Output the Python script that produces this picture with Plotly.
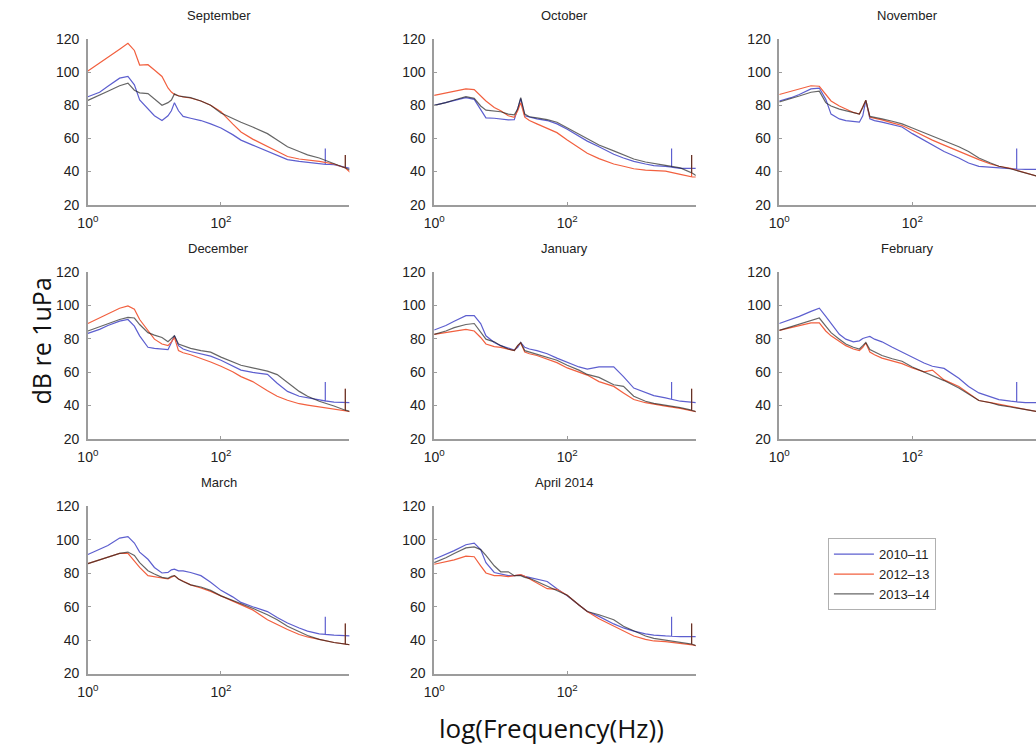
import numpy as np
import plotly.graph_objects as go

# Frequency grid (Hz) shared by every spectrum
freq_hz = [1, 1.5, 2, 3, 4, 5, 6, 8, 10, 13, 16, 18, 20, 23, 27, 35, 50, 70,
           100, 150, 200, 300, 500, 700, 1000, 1500, 2000, 3000, 5000, 7400, 8900]

seasons = ["2010\u201311", "2012\u201313", "2013\u201314"]
panel_titles = ["September", "October", "November", "December", "January",
                "February", "March", "April 2014"]

# Narrow tonal lines (Hz, peak dB)
tone_2010_hz, tone_2010_db = 3700, 54
tone_2012_hz, tone_2012_db = 7400, 50
tone_2013_hz, tone_2013_db = 7400, 50

# Median spectral levels, dB re 1 uPa
sep_2010 = [85.2, 87.9, 91.5, 96.4, 97.4, 92.4, 83.2, 77.7, 73.7, 70.8, 73.7, 76.7, 81.6, 76.7, 73.3, 72.2,
            70.8, 68.8, 66.3, 62.3, 59.0, 56.0, 52.1, 49.7, 47.2, 46.2, 45.6, 44.6, 44.2, 42.8, 41.8]
sep_2012 = [100.7, 105.4, 109.0, 113.9, 117.4, 113.1, 104.3, 104.5, 101.3, 97.4, 90.5, 88.0, 86.5, 85.6, 85.0, 84.4,
            82.6, 80.0, 76.1, 68.8, 63.9, 59.6, 55.0, 52.1, 49.1, 47.6, 47.0, 46.2, 44.6, 42.2, 39.3]
sep_2013 = [83.0, 86.0, 88.5, 91.8, 93.4, 89.1, 87.5, 87.1, 84.0, 80.0, 81.6, 83.2, 86.9, 85.6, 85.2, 84.6,
            82.6, 80.0, 75.3, 71.8, 69.8, 66.9, 62.9, 59.0, 55.0, 52.1, 50.1, 48.2, 44.6, 42.2, 40.9]

oct_2010 = [80.0, 81.6, 83.0, 84.6, 83.6, 77.7, 72.4, 72.2, 71.8, 71.2, 71.4, 77.7, 84.0, 73.7, 72.8, 71.8,
            70.8, 68.8, 65.5, 61.3, 58.4, 55.0, 50.5, 48.2, 46.2, 44.6, 43.6, 43.2, 41.9, 41.9, 41.9]
oct_2012 = [86.0, 87.5, 88.5, 89.9, 89.5, 85.6, 82.6, 78.7, 76.7, 73.7, 72.8, 76.7, 81.6, 72.8, 70.8, 68.8,
            65.9, 63.5, 59.0, 54.1, 51.1, 47.8, 44.6, 43.2, 41.7, 40.9, 40.7, 40.3, 38.3, 36.9, 36.7]
oct_2013 = [80.0, 81.6, 83.2, 85.2, 84.2, 79.6, 77.1, 76.7, 76.1, 74.7, 74.3, 77.7, 84.6, 74.7, 73.1, 72.4,
            71.4, 69.8, 66.3, 62.3, 59.6, 56.0, 52.5, 50.1, 47.6, 45.8, 44.8, 43.8, 42.2, 39.3, 37.3]

nov_2010 = [82.6, 84.6, 86.5, 89.9, 90.4, 83.6, 74.7, 71.8, 70.8, 70.4, 69.8, 73.7, 83.0, 71.8, 70.8, 69.8,
            68.4, 66.9, 62.9, 59.0, 56.4, 52.1, 48.2, 45.2, 43.2, 42.6, 42.2, 41.7, 41.3, 41.3, 41.3]
nov_2012 = [86.5, 88.5, 89.9, 91.8, 91.5, 86.5, 82.6, 79.6, 77.7, 75.7, 74.7, 78.7, 83.0, 72.8, 72.2, 71.2,
            69.4, 67.8, 64.9, 61.3, 59.0, 56.0, 52.1, 49.7, 47.2, 44.6, 43.2, 41.9, 39.3, 37.3, 36.7]
nov_2013 = [82.0, 84.0, 85.6, 87.9, 88.5, 81.6, 79.6, 77.7, 76.7, 75.7, 74.7, 78.7, 83.0, 73.3, 72.8, 71.8,
            70.4, 68.8, 66.3, 63.5, 61.5, 59.0, 55.0, 52.1, 48.2, 45.2, 43.2, 41.7, 39.3, 37.3, 36.7]

dec_2010 = [83.3, 85.7, 88.0, 90.6, 91.6, 87.6, 81.8, 74.9, 74.3, 73.9, 73.5, 77.8, 81.8, 75.9, 73.9, 72.4,
            71.0, 69.6, 67.1, 63.7, 61.2, 59.8, 58.6, 53.3, 48.4, 45.5, 44.5, 43.1, 42.0, 41.6, 41.6]
dec_2012 = [89.2, 92.5, 95.1, 98.4, 99.8, 97.8, 91.6, 84.7, 79.8, 76.9, 75.9, 78.2, 80.8, 72.9, 71.6, 70.4,
            68.4, 66.1, 63.5, 60.2, 57.3, 54.3, 48.8, 45.5, 43.1, 41.0, 40.2, 39.0, 37.6, 36.7, 36.1]
dec_2013 = [84.7, 87.3, 89.2, 91.6, 92.9, 92.5, 88.6, 83.7, 82.2, 80.8, 78.2, 79.8, 81.8, 76.9, 75.9, 74.3,
            72.9, 72.0, 69.0, 66.1, 64.1, 62.5, 60.6, 58.5, 54.0, 48.4, 45.5, 42.5, 39.6, 37.1, 36.3]

jan_2010 = [85.3, 88.0, 90.6, 93.9, 93.9, 89.2, 81.8, 77.8, 75.9, 74.3, 73.3, 74.9, 77.8, 74.9, 73.9, 72.9,
            71.0, 68.4, 66.1, 63.1, 61.8, 63.1, 63.1, 57.3, 50.4, 47.5, 45.9, 44.5, 42.5, 41.6, 41.6]
jan_2012 = [82.7, 83.7, 84.7, 85.7, 84.7, 80.8, 76.9, 75.3, 74.9, 73.9, 72.9, 75.9, 77.5, 72.0, 71.0, 70.0,
            68.0, 65.7, 62.5, 59.8, 58.2, 54.3, 51.4, 47.5, 43.5, 41.6, 40.6, 39.6, 38.2, 36.7, 36.1]
jan_2013 = [82.7, 84.7, 86.7, 88.6, 89.2, 83.7, 79.8, 78.2, 75.9, 73.9, 72.9, 75.9, 77.8, 72.9, 72.0, 71.0,
            69.0, 67.1, 64.1, 61.2, 58.6, 56.8, 52.4, 51.4, 45.5, 42.5, 41.2, 40.2, 38.6, 37.1, 36.1]

feb_2010 = [89.2, 91.6, 93.5, 96.5, 98.4, 93.5, 89.2, 82.7, 79.8, 78.2, 78.8, 80.2, 80.8, 81.4, 79.8, 78.2,
            74.9, 72.0, 69.0, 65.5, 63.5, 62.2, 56.3, 51.4, 47.5, 44.9, 43.5, 42.5, 41.6, 41.6, 41.6]
feb_2012 = [85.1, 86.7, 88.0, 89.6, 89.6, 84.7, 81.8, 78.2, 75.9, 73.9, 72.9, 74.9, 77.5, 72.0, 70.4, 68.4,
            66.5, 65.1, 62.5, 60.2, 61.2, 55.3, 51.4, 47.5, 42.9, 41.6, 40.6, 39.2, 37.6, 36.3, 35.7]
feb_2013 = [85.1, 87.3, 88.6, 91.2, 92.5, 87.6, 83.7, 79.8, 76.9, 74.9, 73.9, 75.9, 77.8, 73.5, 72.0, 70.0,
            68.0, 66.5, 63.1, 60.2, 57.8, 54.9, 50.4, 46.5, 42.9, 41.6, 40.2, 39.0, 37.3, 36.3, 35.7]

mar_2010 = [91.3, 94.2, 96.6, 101.1, 102.0, 98.1, 92.7, 88.4, 83.5, 80.2, 80.5, 82.1, 82.5, 81.5, 81.5, 80.5,
            78.6, 74.7, 69.8, 65.9, 62.6, 60.0, 57.1, 53.6, 50.3, 47.3, 45.4, 43.8, 43.0, 42.5, 42.5]
mar_2012 = [85.8, 88.0, 89.7, 91.9, 91.9, 87.4, 83.5, 78.6, 78.0, 77.0, 76.6, 77.6, 78.6, 76.6, 75.1, 73.1,
            71.2, 69.2, 66.5, 63.4, 61.0, 58.1, 52.2, 49.3, 46.4, 43.4, 41.9, 40.5, 38.6, 37.6, 37.2]
mar_2013 = [85.8, 88.0, 89.7, 91.9, 92.7, 90.7, 86.4, 81.5, 79.6, 77.6, 77.0, 78.2, 78.6, 76.6, 75.1, 73.1,
            71.8, 69.8, 66.5, 63.9, 62.0, 59.1, 55.2, 52.2, 48.3, 44.8, 42.8, 40.5, 38.6, 37.6, 37.2]

apr_2010 = [88.4, 91.3, 93.6, 97.1, 98.1, 94.2, 86.4, 80.5, 79.6, 78.6, 78.6, 79.0, 79.0, 78.2, 77.6, 76.6,
            75.1, 70.8, 66.5, 61.0, 57.1, 54.2, 49.7, 47.3, 45.4, 43.8, 43.0, 42.5, 42.1, 42.1, 42.1]
apr_2012 = [85.4, 86.8, 88.0, 90.3, 89.9, 84.5, 80.2, 78.6, 78.6, 78.0, 78.6, 79.2, 79.2, 78.2, 76.6, 74.3,
            70.8, 70.4, 66.9, 61.0, 57.1, 52.8, 48.3, 45.4, 42.5, 40.5, 39.5, 39.1, 38.2, 37.2, 36.6]
apr_2013 = [86.4, 89.3, 91.9, 95.2, 95.8, 94.2, 90.7, 84.5, 80.9, 80.9, 78.6, 78.6, 78.6, 77.6, 77.0, 75.1,
            72.3, 69.8, 66.9, 61.0, 57.1, 55.2, 52.2, 48.3, 45.4, 42.5, 41.1, 39.9, 38.6, 37.6, 36.6]

panel_series = [
    (sep_2010, sep_2012, sep_2013),
    (oct_2010, oct_2012, oct_2013),
    (nov_2010, nov_2012, nov_2013),
    (dec_2010, dec_2012, dec_2013),
    (jan_2010, jan_2012, jan_2013),
    (feb_2010, feb_2012, feb_2013),
    (mar_2010, mar_2012, mar_2013),
    (apr_2010, apr_2012, apr_2013),
]
tones = [(tone_2010_hz, tone_2010_db), (tone_2012_hz, tone_2012_db), (tone_2013_hz, tone_2013_db)]
line_colors = ["#5d5fcf", "#f2603f", "rgba(30,30,30,0.68)"]


def add_tone(f, v, tone_hz, tone_db):
    """Insert a narrow vertical tonal line into a spectrum."""
    f = list(f)
    v = list(v)
    base = float(np.interp(np.log10(tone_hz), np.log10(f), v))
    i = int(np.searchsorted(f, tone_hz))
    if i < len(f) and f[i] == tone_hz:
        f[i + 1:i + 1] = [tone_hz, tone_hz]
        v[i + 1:i + 1] = [tone_db, base]
    else:
        f[i:i] = [tone_hz, tone_hz, tone_hz]
        v[i:i] = [base, tone_db, base]
    return f, v


W, H = 1036, 753
col_px = [(77.7, 342.0), (427.7, 692.0), (776.5, 1036.0)]
row_px = [(31.7, 201.0), (270.0, 440.0), (509.3, 680.0)]
decades_per_px = 3.93 / (342.0 - 77.7)

fig = go.Figure()
axis_color = "#9c9c9c"
tick_font = dict(family="Liberation Sans, Arial, sans-serif", size=14, color="#222")

for k, title in enumerate(panel_titles):
    r, c = divmod(k, 3)
    n = k + 1
    xa = "x" if n == 1 else f"x{n}"
    ya = "y" if n == 1 else f"y{n}"
    x0, x1 = col_px[c]
    y0, y1 = row_px[r]
    xmax = (x1 - x0) * decades_per_px

    for s, (vals, name) in enumerate(zip(panel_series[k], seasons)):
        f, v = add_tone(freq_hz, vals, *tones[s])
        fig.add_trace(go.Scatter(
            x=f, y=v, mode="lines", name=name,
            line=dict(color=line_colors[s], width=1.2),
            xaxis=xa, yaxis=ya, showlegend=(k == 0), legendgroup=name,
        ))

    common = dict(showline=True, linecolor=axis_color, linewidth=1.5,
                  ticks="inside", ticklen=3, tickcolor=axis_color,
                  showgrid=False, zeroline=False, tickfont=tick_font)
    fig.update_layout(**{
        ("xaxis" if n == 1 else f"xaxis{n}"): dict(
            type="log", range=[0, xmax], domain=[x0 / W, x1 / W],
            anchor=ya, tickvals=[1, 100], ticklabelstandoff=5,
            ticktext=["10<sup>0</sup>", "10<sup>2</sup>"], **common),
        ("yaxis" if n == 1 else f"yaxis{n}"): dict(
            range=[20, 120], domain=[1 - y1 / H, 1 - y0 / H], anchor=xa,
            tickvals=[20, 40, 60, 80, 100, 120], ticklabelstandoff=4, **common),
    })
    fig.add_annotation(
        text=title, x=(x0 + x1) / 2 / W, y=1 - y0 / H, xref="paper", yref="paper",
        xanchor="center", yanchor="bottom", yshift=14, showarrow=False,
        font=dict(family="Liberation Sans, Arial, sans-serif", size=13, color="#222"),
    )

fig.add_annotation(
    text="dB re 1uPa", x=30 / W, y=1 - 340 / H, xref="paper", yref="paper",
    xanchor="center", yanchor="middle", textangle=-90, showarrow=False,
    font=dict(family="Open Sans, sans-serif", size=25, color="#111"),
)
fig.add_annotation(
    text="log(Frequency(Hz))", x=546 / W, y=1 - 736 / H, xref="paper", yref="paper",
    xanchor="center", yanchor="middle", showarrow=False,
    font=dict(family="Open Sans, sans-serif", size=26, color="#111"),
)

fig.update_layout(
    width=W, height=H, margin=dict(l=0, r=0, t=0, b=0),
    paper_bgcolor="white", plot_bgcolor="white",
    legend=dict(x=825.7 / W, y=1 - 541.7 / H, xanchor="left", yanchor="top",
                bordercolor="#b0b0b0", borderwidth=1, bgcolor="white",
                font=dict(family="Liberation Sans, Arial, sans-serif", size=13, color="#222"),
                tracegroupgap=0, itemwidth=40),
)

fig.write_html("out.html")
